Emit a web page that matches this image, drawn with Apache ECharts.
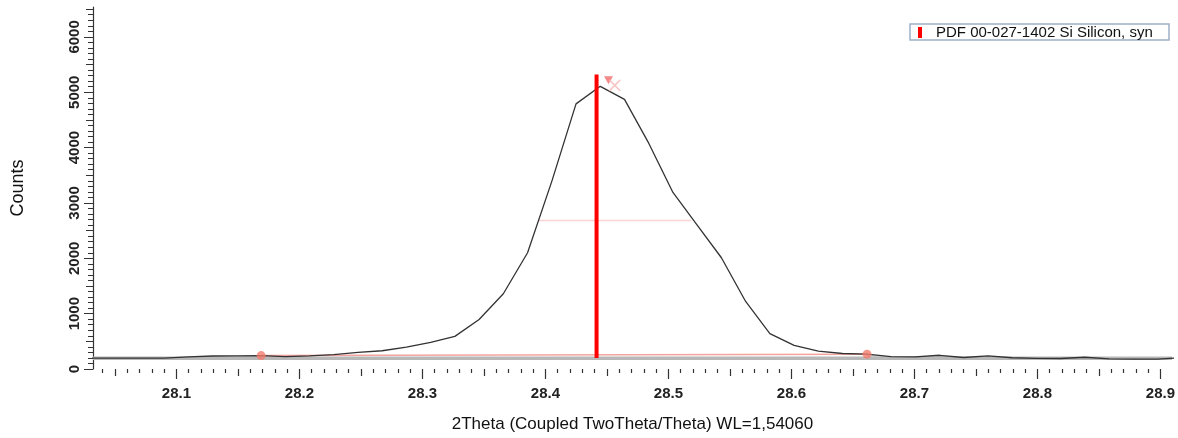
<!DOCTYPE html>
<html><head><meta charset="utf-8">
<script src="https://cdn.jsdelivr.net/npm/echarts@6/dist/echarts.min.js"></script>
<style>html,body{margin:0;padding:0;background:#fff}#c{width:1178px;height:438px}</style>
</head><body><div id="c"></div>
<script>
// ---- data ----
const twoTheta = [28.0309,28.0506,28.0703,28.0900,28.1097,28.1294,28.1491,28.1688,28.1885,28.2082,
  28.2279,28.2476,28.2673,28.2870,28.3067,28.3264,28.3461,28.3658,28.3855,28.4052,
  28.4249,28.4446,28.4643,28.4840,28.5037,28.5234,28.5431,28.5628,28.5825,28.6022,
  28.6219,28.6416,28.6613,28.6810,28.7007,28.7204,28.7401,28.7598,28.7795,28.7992,
  28.8189,28.8386,28.8583,28.8780,28.8977,28.9174];
const counts = [195,195,195,198,220,235,238,240,222,238,
  260,300,330,395,480,590,895,1360,2100,3390,
  4790,5107,4870,4080,3190,2600,2010,1220,640,427,
  322,280,268,222,220,248,208,236,203,192,
  190,212,182,180,180,205];
const xTickLabels = [28.1,28.2,28.3,28.4,28.5,28.6,28.7,28.8,28.9];
const yTickLabels = [0,1000,2000,3000,4000,5000,6000];
const refName = 'PDF 00-027-1402 Si Silicon, syn';
const refPos = 28.4416, refTop = 5320, refBase = 198;
const bgLevel = 192;
const fwhmFrom = 28.3948, fwhmTo = 28.5186, fwhmLevel = 2682;
const baseStart = [28.1689, 242], baseEnd = [28.6615, 268];
const peakTri = [28.4513, 5216];
const peakCross = [28.4564, 5124];
const xMin = 28.0322, xMax = 28.9094, yMax = 6540;

// ---- tick positions (styling helpers) ----
const xMid = [], xMinor = [], yMid = [], yMinor = [];
for (let k = 2804; k <= 2890; k++) { if (k % 10 === 5) xMid.push(k/100); else if (k % 10 !== 0) xMinor.push(k/100); }
for (let v = 100; v <= 6500; v += 100) { if (v % 1000 === 500) yMid.push(v); else if (v % 1000 !== 0) yMinor.push(v); }

const pts = twoTheta.map((x,i)=>[x,counts[i]]);
const tailLeft = pts.filter(p => p[0] <= 28.21);
const tailRight = pts.filter(p => p[0] >= 28.66);

const font = 'Liberation Sans, Arial, sans-serif';
function xAx(ticks, len, main) {
  return {type:'value', min:xMin, max:xMax, position:'bottom', offset:2, gridIndex:0,
    axisLine:{show:false}, splitLine:{show:false},
    axisTick:{show:true, inside:false, length:len, customValues:ticks, lineStyle:{color:'#333', width:1.2}},
    axisLabel: main ? {show:true, customValues:xTickLabels, margin:15, color:'#222', fontSize:15, fontWeight:'bold', fontFamily:font,
      formatter:v=>v.toFixed(1)} : {show:false},
    name: main ? '2Theta (Coupled TwoTheta/Theta) WL=1,54060' : '',
    nameLocation:'middle', nameGap:45, nameTextStyle:{fontSize:17, color:'#111', fontFamily:font}};
}
function yAx(ticks, len, main) {
  return {type:'value', min:0, max:yMax, position:'left', gridIndex:0,
    axisLine:{show:main, lineStyle:{color:'#333', width:1.2}}, splitLine:{show:false},
    axisTick:{show:true, length:len, customValues:ticks, lineStyle:{color:'#333', width:1}},
    axisLabel: main ? {show:true, customValues:yTickLabels, rotate:90, margin:11, color:'#222', fontSize:15, fontWeight:'bold', fontFamily:font,
      formatter:v=>String(v)} : {show:false},
    name: main ? 'Counts' : '', nameLocation:'middle', nameGap:66, nameRotate:90,
    nameTextStyle:{fontSize:18, color:'#111', fontFamily:font}};
}

const option = {
  animation:false,
  grid:{left:93, right:1, top:7, bottom:60.3, containLabel:false},
  xAxis:[xAx(xTickLabels,10,true), xAx(xMid,7,false), xAx(xMinor,4,false)],
  yAxis:[yAx(yTickLabels,9,true), yAx(yMid,7,false), yAx(yMinor,5,false)],
  series:[
    {type:'line', name:'tailL', data:tailLeft, symbol:'none', z:1, lineStyle:{width:0},
      areaStyle:{origin:bgLevel, color:'#c6c6c6'}, silent:true},
    {type:'line', name:'tailR', data:tailRight, symbol:'none', z:1, lineStyle:{width:0},
      areaStyle:{origin:bgLevel, color:'#c6c6c6'}, silent:true},
    {type:'line', name:'bg', data:[[xMin,bgLevel],[xMax,bgLevel]], symbol:'none', z:1,
      lineStyle:{color:'#b8b8b8', width:3.5}, silent:true},
    {type:'line', name:'baseline', data:[baseStart, baseEnd], symbol:'none', z:2,
      lineStyle:{color:'#f4a4a0', width:1.5}},
    {type:'line', name:'fwhm', data:[[fwhmFrom,fwhmLevel],[fwhmTo,fwhmLevel]], symbol:'none', z:2,
      lineStyle:{color:'#fbd3d3', width:1.5}},
    {type:'line', name:'scan', data:pts, symbol:'none', z:3,
      lineStyle:{color:'#333', width:1.3}},
    {type:'line', name:refName, data:[[refPos,refBase],[refPos,refTop]], symbol:'none', z:4,
      lineStyle:{color:'#ff0000', width:4}},
    {type:'scatter', name:'ends', data:[baseStart, baseEnd], symbol:'circle', symbolSize:9, z:5,
      itemStyle:{color:'#f37c6e'}},
    {type:'scatter', name:'peakTri', data:[peakTri], symbol:'triangle', symbolRotate:180, symbolSize:[9,8], z:5,
      itemStyle:{color:'#f36c6c'}},
    {type:'scatter', name:'peakCross', data:[peakCross], symbol:'path://M0,0L10,10M10,0L0,10', symbolSize:11, z:5,
      itemStyle:{color:'none', borderColor:'#f7b8b8', borderWidth:1.5}}
  ],
  graphic:[
    {type:'rect', shape:{x:910, y:24, width:259, height:16}, style:{fill:'#fff', stroke:'#9fb0c6', lineWidth:1.5}, z:10},
    {type:'rect', shape:{x:918, y:27, width:4, height:11}, style:{fill:'#ff0000'}, z:11},
    {type:'text', x:936, y:32.5, style:{text:refName, fontSize:15, fontFamily:font, fill:'#111', verticalAlign:'middle'}, z:11}
  ]
};
const chart = echarts.init(document.getElementById('c'), null, {renderer:'canvas'});
chart.setOption(option);
</script>
</body></html>
